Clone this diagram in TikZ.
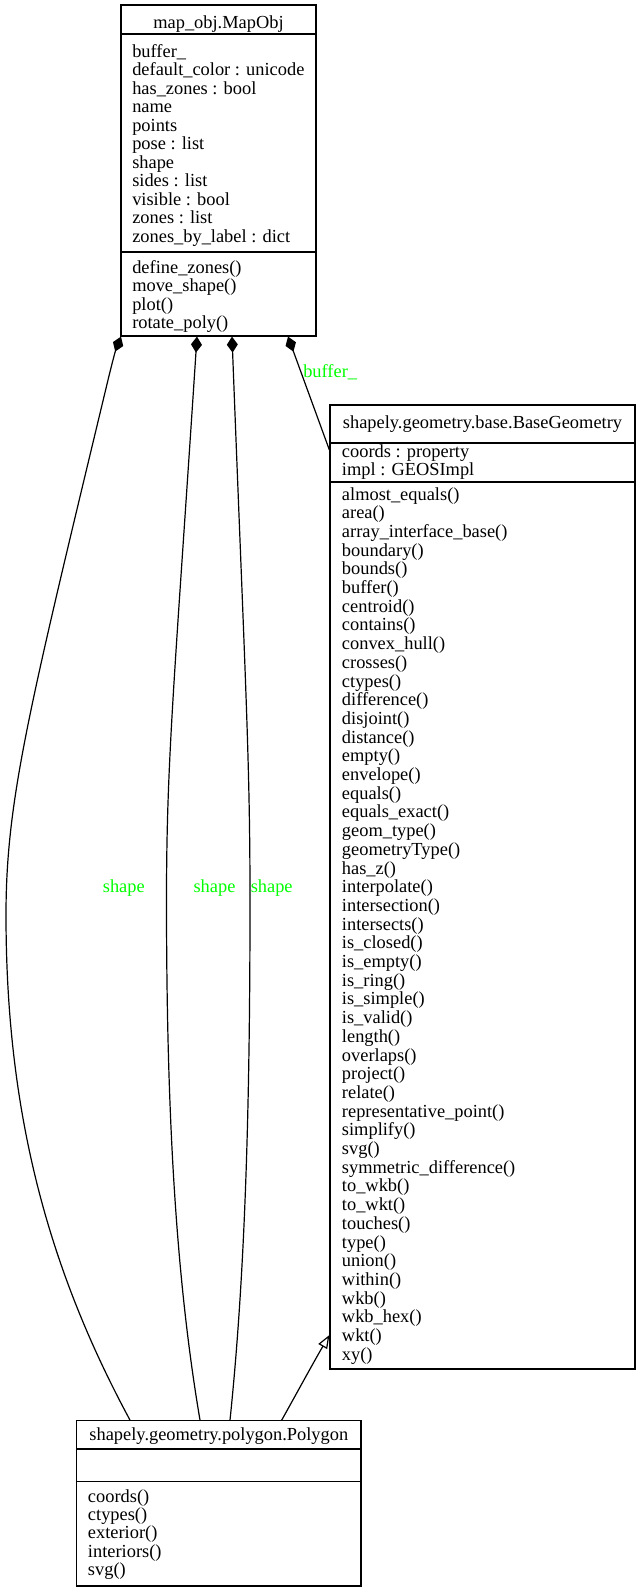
\documentclass[tikz,border=0pt]{standalone}
\usepackage{fontspec}
\setmainfont{Liberation Serif}
\usetikzlibrary{arrows.meta,calc}
\definecolor{lblgreen}{RGB}{0,255,0}
\tikzset{
  cls/.style={draw, line width=0.9pt, inner sep=0pt},
  sepline/.style={line width=0.9pt},
  txt/.style={font=\fontsize{13.8pt}{14pt}\selectfont, inner sep=0pt, anchor=base west},
  ttl/.style={txt, anchor=base},
  lbl/.style={font=\fontsize{13.8pt}{14pt}\selectfont, text=lblgreen, inner sep=0pt},
  comp/.style={line width=0.9pt, {Diamond[length=12pt,width=8.25pt]}-},
  inh/.style={line width=0.9pt, -{Triangle[open,length=10pt,width=7.5pt]}},
}
\begin{document}
\begin{tikzpicture}[x=0.75pt, y=-0.75pt]
\useasboundingbox (0,0) rectangle (641,1592);

% ---------- MapObj ----------
\node[cls, minimum width=146.25pt, minimum height=248.25pt] (mapobj) at (218.5,170.5) {};
\draw[sepline] (mapobj.west |- 0,34) -- (mapobj.east |- 0,34);
\draw[sepline] (mapobj.west |- 0,252) -- (mapobj.east |- 0,252);
\node[ttl] (mapobjT) at (218.5,28.3) {map\_obj.MapObj};
\foreach \s [count=\i from 0] in {buffer\_, default\_color : unicode, has\_zones : bool, name, points, pose : list, shape, sides : list, visible : bool, zones : list, zones\_by\_label : dict}
  \node[txt] (ma\i) at (132,{57+18.55*\i}) {\s};
\foreach \s [count=\i from 0] in {define\_zones(), move\_shape(), plot(), rotate\_poly()}
  \node[txt] (mm\i) at (132,{273+18.55*\i}) {\s};

% ---------- BaseGeometry ----------
\node[cls, minimum width=228.75pt, minimum height=723pt] (base) at (482.5,887) {};
\draw[sepline] (base.west |- 0,443) -- (base.east |- 0,443);
\draw[sepline] (base.west |- 0,482) -- (base.east |- 0,482);
\node[ttl] (baseT) at (482.5,428.3) {shapely.geometry.base.BaseGeometry};
\node[txt] (ba0) at (341.7,457) {coords : property};
\node[txt] (ba1) at (341.7,475.3) {impl : GEOSImpl};
\foreach \s [count=\i from 0] in {almost\_equals(), area(), array\_interface\_base(), boundary(), bounds(), buffer(), centroid(), contains(), convex\_hull(), crosses(), ctypes(), difference(), disjoint(), distance(), empty(), envelope(), equals(), equals\_exact(), geom\_type(), geometryType(), has\_z(), interpolate(), intersection(), intersects(), is\_closed(), is\_empty(), is\_ring(), is\_simple(), is\_valid(), length(), overlaps(), project(), relate(), representative\_point(), simplify(), svg(), symmetric\_difference(), to\_wkb(), to\_wkt(), touches(), type(), union(), within(), wkb(), wkb\_hex(), wkt(), xy()}
  \node[txt] (bm\i) at (341.7,{500+18.7*\i}) {\s};

% ---------- Polygon ----------
\node[cls, minimum width=213.2pt, minimum height=124pt] (poly) at (218.85,1503.35) {};
\draw[sepline] (poly.west |- 0,1449) -- (poly.east |- 0,1449);
\draw[sepline] (poly.west |- 0,1481.7) -- (poly.east |- 0,1481.7);
\node[ttl] (polyT) at (218.85,1440) {shapely.geometry.polygon.Polygon};
\foreach \s [count=\i from 0] in {coords(), ctypes(), exterior(), interiors(), svg()}
  \node[txt] (pm\i) at (87.7,{1502.7+18.1*\i}) {\s};

% ---------- connector ends ----------
\coordinate (e1s) at ($(mapobj.south)+(-97.5,0)$);
\coordinate (e2s) at ($(mapobj.south)+(-21.5,0)$);
\coordinate (e3s) at ($(mapobj.south)+(13.5,0)$);
\coordinate (e4s) at ($(mapobj.south)+(69.5,0)$);
\coordinate (e1e) at ($(poly.north)+(-88.85,0)$);
\coordinate (e2e) at ($(poly.north)+(-18.85,0)$);
\coordinate (e3e) at ($(poly.north)+(11.15,0)$);
\coordinate (e5s) at ($(poly.north)+(62.85,0)$);
\coordinate (e4e) at ($(base.west)+(0,-437)$);
\coordinate (e5e) at ($(base.west)+(0,448)$);

% ---------- connectors ----------
\draw[comp] (e1s) .. controls (115,352) and (110.9,368) .. (108,380) .. controls (28.8,710) and (6,800) .. (6,915) .. controls (6,1115) and (49,1270) .. (e1e);
\draw[comp] (e2s) .. controls (174,687) and (166.5,760) .. (166.5,900) .. controls (166.5,1100) and (174.5,1270) .. (e2e);
\draw[comp] (e3s) .. controls (245.5,687) and (250,760) .. (250,900) .. controls (250,1100) and (245.6,1270) .. (e3e);
\draw[comp] (e4s) -- (e4e);
\draw[inh] (e5s) .. controls (293,1400) and (312,1365) .. (e5e);

% ---------- labels ----------
\node[lbl, anchor=base west] (lb4) at (303,377) {buffer\_};
\node[lbl, anchor=base] (lb1) at (123.8,892.7) {shape};
\node[lbl, anchor=base] (lb2) at (214.5,892.7) {shape};
\node[lbl, anchor=base] (lb3) at (271.7,892.7) {shape};
\end{tikzpicture}
\end{document}
